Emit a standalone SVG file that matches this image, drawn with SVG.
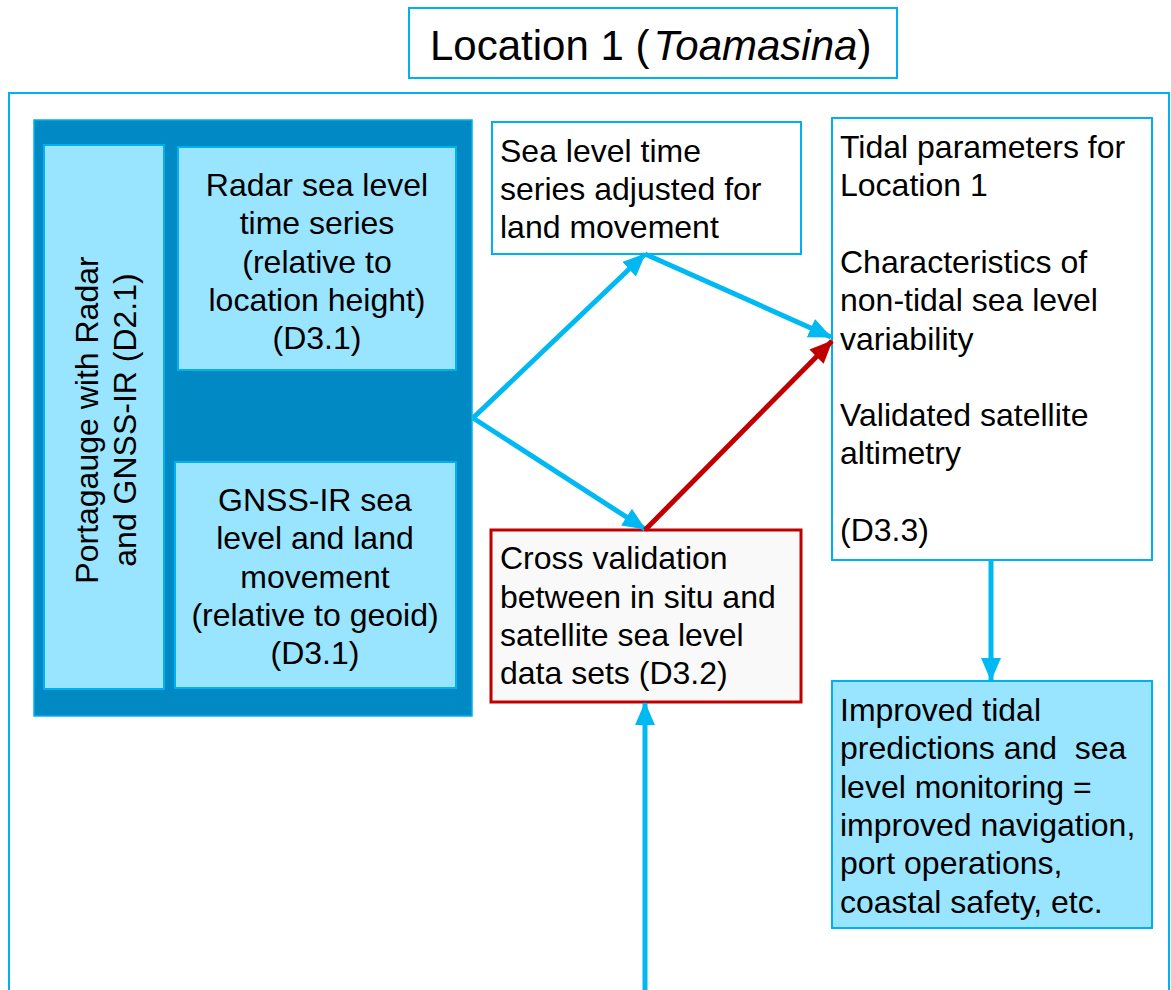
<svg xmlns="http://www.w3.org/2000/svg" width="1171" height="990" viewBox="0 0 1171 990">
<defs>
<style>
.t{font-family:"Liberation Sans",Arial,sans-serif;font-size:32px;fill:#000}
.c{text-anchor:middle}
.lb{fill:#99E4FF;stroke:#00B0F0;stroke-width:2}
.wb{fill:#fff;stroke:#00B0F0;stroke-width:2}
.ln{fill:none;stroke:#00B8F2;stroke-width:5}
.lr{fill:none;stroke:#C00000;stroke-width:5}
</style>
<marker id="ab" markerUnits="userSpaceOnUse" markerWidth="24" markerHeight="22" refX="22" refY="11" orient="auto" viewBox="0 0 24 22">
<path d="M0,1 L23,11 L0,21 Z" fill="#00B8F2"/>
</marker>
<marker id="ar" markerUnits="userSpaceOnUse" markerWidth="24" markerHeight="22" refX="22" refY="11" orient="auto" viewBox="0 0 24 22">
<path d="M0,1 L23,11 L0,21 Z" fill="#C00000"/>
</marker>
</defs>
<rect width="1171" height="990" fill="#fff"/>
<g id="title">
<rect x="409" y="8" width="488" height="70" class="wb"/>
<text x="430" y="60" class="t" style="font-size:42px">Location 1 (<tspan dx="4" font-style="italic">Toamasina</tspan>)</text>
</g>
<g id="frame">
<rect x="9" y="93" width="1160" height="920" fill="none" stroke="#00B0F0" stroke-width="2"/>
</g>
<g id="portagauge">
<rect x="34" y="120" width="438" height="596" fill="#0089C2" stroke="#00B0F0" stroke-width="1.5"/>
<rect x="44" y="145" width="120" height="544" class="lb"/>
<text transform="translate(98,420) rotate(-90)" class="t c"><tspan x="0" y="0">Portagauge with Radar</tspan><tspan x="0" y="38">and GNSS-IR (D2.1)</tspan></text>
</g>
<g id="radar">
<rect x="178" y="147" width="278" height="223" class="lb"/>
<text class="t c"><tspan x="317" y="196">Radar sea level</tspan><tspan x="317" y="234">time series</tspan><tspan x="317" y="273">(relative to</tspan><tspan x="317" y="311">location height)</tspan><tspan x="317" y="349">(D3.1)</tspan></text>
</g>
<g id="gnss">
<rect x="175" y="462" width="281" height="226" class="lb"/>
<text class="t c"><tspan x="315" y="511">GNSS-IR sea</tspan><tspan x="315" y="549">level and land</tspan><tspan x="315" y="588">movement</tspan><tspan x="315" y="626">(relative to geoid)</tspan><tspan x="315" y="664">(D3.1)</tspan></text>
</g>
<g id="adjusted">
<rect x="492" y="122" width="309" height="132" class="wb"/>
<text class="t"><tspan x="500" y="162">Sea level time</tspan><tspan x="500" y="200">series adjusted for</tspan><tspan x="500" y="238">land movement</tspan></text>
</g>
<g id="tidal">
<rect x="832" y="118" width="320" height="442" class="wb"/>
<text class="t"><tspan x="840" y="158">Tidal parameters for</tspan><tspan x="840" y="196">Location 1</tspan><tspan x="840" y="273">Characteristics of</tspan><tspan x="840" y="311">non-tidal sea level</tspan><tspan x="840" y="350">variability</tspan><tspan x="840" y="426">Validated satellite</tspan><tspan x="840" y="464">altimetry</tspan><tspan x="840" y="541">(D3.3)</tspan></text>
</g>
<g id="crossval">
<rect x="491" y="530" width="310" height="172" fill="#F9F9F9" stroke="#C00000" stroke-width="3"/>
<text class="t"><tspan x="500" y="569">Cross validation</tspan><tspan x="500" y="608">between in situ and</tspan><tspan x="500" y="646">satellite sea level</tspan><tspan x="500" y="684">data sets (D3.2)</tspan></text>
</g>
<g id="improved">
<rect x="832" y="681" width="320" height="247" class="lb"/>
<text class="t" xml:space="preserve"><tspan x="840" y="721">Improved tidal</tspan><tspan x="840" y="759">predictions and  sea</tspan><tspan x="840" y="798">level monitoring =</tspan><tspan x="840" y="836">improved navigation,</tspan><tspan x="840" y="874">port operations,</tspan><tspan x="840" y="913">coastal safety, etc.</tspan></text>
</g>
<g id="connectors">
<line x1="473" y1="418" x2="645" y2="254" class="ln" marker-end="url(#ab)"/>
<line x1="645" y1="254" x2="831" y2="337" class="ln" marker-end="url(#ab)"/>
<line x1="473" y1="418" x2="645" y2="529" class="ln" marker-end="url(#ab)"/>
<line x1="645" y1="530" x2="832" y2="341" class="lr" marker-end="url(#ar)"/>
<line x1="991" y1="560" x2="991" y2="680" class="ln" marker-end="url(#ab)"/>
<line x1="645" y1="990" x2="645" y2="703" class="ln" marker-end="url(#ab)"/>
</g>
</svg>
